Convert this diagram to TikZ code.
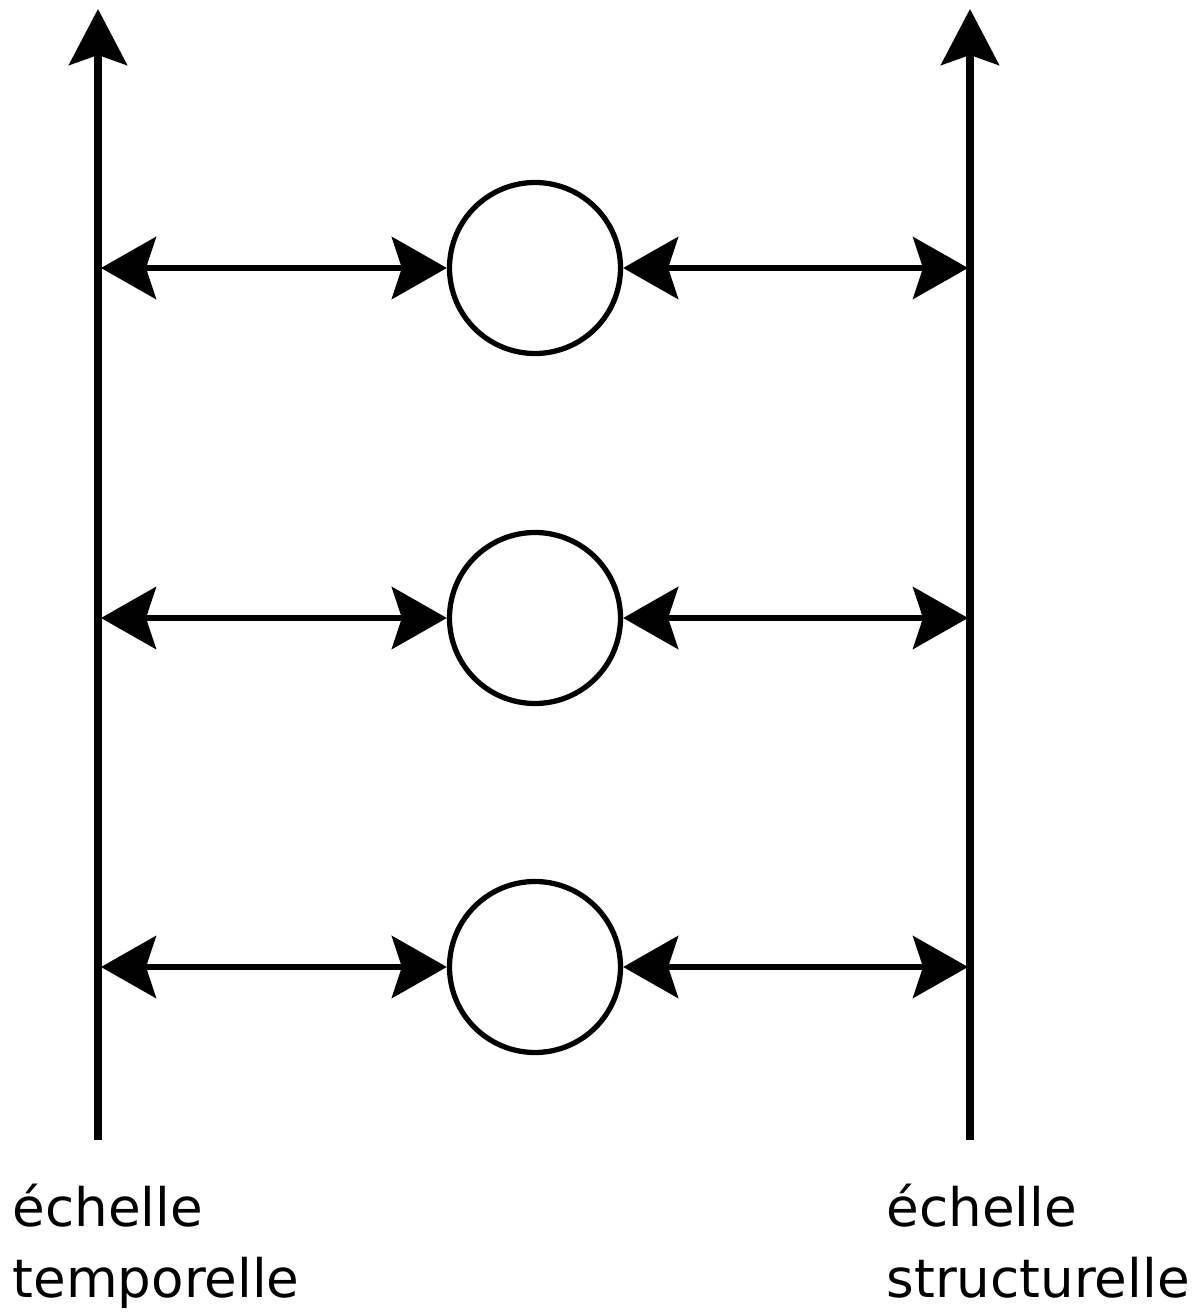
\documentclass[tikz,border=0pt]{standalone}
\usepackage{fontspec}
\setmainfont{DejaVu Sans}
\usetikzlibrary{arrows.meta}
\tikzstyle{axis} = [line width=2pt,-{Stealth[length=5.6mm,width=5.8mm,inset=1mm]}]
\tikzstyle{link} = [line width=1.8pt,{Stealth[length=5.5mm,width=6.2mm,inset=1mm]}-{Stealth[length=5.5mm,width=6.2mm,inset=1mm]}]
\tikzstyle{level} = [circle,draw,line width=1.5pt,minimum size=1.71cm,inner sep=0pt]
\tikzstyle{label} = [inner sep=0pt,anchor=base west,font=\fontsize{15.1}{19}\selectfont]

\begin{document}
\begin{tikzpicture}
			\useasboundingbox (0, 0) rectangle (11.93, 13.12);
			% axes
			\coordinate (t0) at (0.98, 1.72);
			\coordinate (t1) at (0.98, 13.03);
			\coordinate (s0) at (9.70, 1.72);
			\coordinate (s1) at (9.70, 13.03);
			\draw[axis] (t0) -- (t1);
			\draw[axis] (s0) -- (s1);
			% levels
			\node[level] (c1) at (5.35, 10.44) {};
			\node[level] (c2) at (5.35, 6.94) {};
			\node[level] (c3) at (5.35, 3.45) {};
			\coordinate (tl1) at (1.01, 10.44);
			\coordinate (tl2) at (1.01, 6.94);
			\coordinate (tl3) at (1.01, 3.45);
			\coordinate (sr1) at (9.68, 10.44);
			\coordinate (sr2) at (9.68, 6.94);
			\coordinate (sr3) at (9.68, 3.45);
			\draw[link] (tl1) -- (c1.west);
			\draw[link] (c1.east) -- (sr1);
			\draw[link] (tl2) -- (c2.west);
			\draw[link] (c2.east) -- (sr2);
			\draw[link] (tl3) -- (c3.west);
			\draw[link] (c3.east) -- (sr3);
			% labels
			\node[label] (tlab1) at (0.12, 0.85) {échelle};
			\node[label] (tlab2) at (0.12, 0.15) {temporelle};
			\node[label] (slab1) at (8.86, 0.85) {échelle};
			\node[label] (slab2) at (8.86, 0.15) {structurelle};
		\end{tikzpicture}
\end{document}
